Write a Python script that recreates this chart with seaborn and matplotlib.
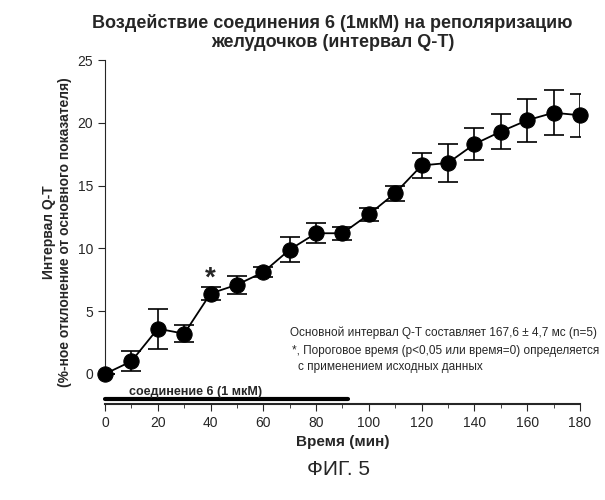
import matplotlib
matplotlib.use("Agg")
import matplotlib.pyplot as plt
import seaborn as sns
import pandas as pd

time = [0,10,20,30,40,50,60,70,80,90,100,110,120,130,140,150,160,170,180]
qt = [0,1.0,3.6,3.2,6.4,7.1,8.1,9.9,11.2,11.2,12.7,14.4,16.6,16.8,18.3,19.3,20.2,20.8,20.6]
err = [0,0.8,1.6,0.7,0.5,0.7,0.4,1.0,0.8,0.5,0.5,0.6,1.0,1.5,1.3,1.4,1.7,1.8,1.7]
df = pd.DataFrame({"t": time, "v": qt})

sns.set_style("ticks", {"font.family": "Liberation Sans"})
plt.rcParams["font.family"] = "Liberation Sans"
fig = plt.figure(figsize=(6.05, 5), dpi=100)
ax = fig.add_axes([0.1736, 0.192, 0.785, 0.688])
ax.errorbar(time, qt, yerr=err, fmt="none", ecolor="black", elinewidth=1.2, capsize=7, capthick=1.2, zorder=2)
sns.lineplot(data=df, x="t", y="v", color="black", lw=1.3, marker="o", markersize=11,
             markeredgecolor="black", markerfacecolor="black", ax=ax, zorder=3, clip_on=False)
ax.set_xlim(0, 180)
ax.set_ylim(-2.4, 25)
ax.spines["left"].set_bounds(0, 25)
ax.spines["top"].set_visible(False)
ax.spines["right"].set_visible(False)
ax.set_yticks([0,5,10,15,20,25])
ax.set_xticks(range(0,181,20))
ax.set_xticks(range(0,181,10), minor=True)
ax.tick_params(direction="out", length=5, labelsize=10)
ax.tick_params(which="minor", length=3)
ax.spines["bottom"].set_linewidth(1.5)
ax.plot([0, 92], [-2.0, -2.0], color="black", lw=3, clip_on=False)
ax.text(9, -1.7, "соединение 6 (1 мкМ)", fontsize=9, fontweight="bold")
ax.text(40, 7.0, "*", fontsize=20, ha="center", fontweight="bold")
ax.text(70, 3.0, "Основной интервал Q-T составляет 167,6 ± 4,7 мс (n=5)", fontsize=8.5)
ax.text(71, 1.6, "*, Пороговое время (p<0,05 или время=0) определяется", fontsize=8.5)
ax.text(73, 0.3, "с применением исходных данных", fontsize=8.5)
ax.set_xlabel("Время (мин)", fontsize=11, fontweight="bold")
ax.set_ylabel("Интервал Q-T\n(%-ное отклонение от основного показателя)", fontsize=10, fontweight="bold")
fig.text(0.55, 0.935, "Воздействие соединения 6 (1мкМ) на реполяризацию\nжелудочков (интервал Q-T)",
         ha="center", va="center", fontsize=13, fontweight="bold")
fig.text(0.56, 0.05, "ФИГ. 5", ha="center", fontsize=15)
fig.savefig("out.png", dpi=100)
